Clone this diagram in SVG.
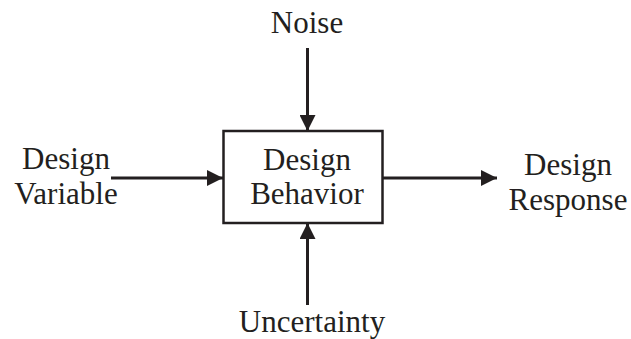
<svg xmlns="http://www.w3.org/2000/svg" width="631" height="339" viewBox="0 0 631 339">
<style>
.c{stroke:#231f20;stroke-width:3;fill:none}
.b{fill:#fff;stroke:#231f20;stroke-width:2.5}
</style>
<defs>
<marker id="ah" markerWidth="16" markerHeight="16" viewBox="0 0 16 16" refX="16" refY="8" orient="auto" markerUnits="userSpaceOnUse">
<path d="M0,0 L16,8 L0,16 Z" fill="#231f20"/>
</marker>
</defs>
<rect width="631" height="339" fill="#fff"/>
<g id="connectors">
<line class="c" x1="307.5" y1="48" x2="307.5" y2="131" marker-end="url(#ah)"/>
<line class="c" x1="307.5" y1="305" x2="307.5" y2="223" marker-end="url(#ah)"/>
<line class="c" x1="111" y1="178" x2="223" y2="178" marker-end="url(#ah)"/>
<line class="c" x1="383" y1="178" x2="497" y2="178" marker-end="url(#ah)"/>
</g>
<g font-family="Liberation Serif" font-size="31" fill="#231f20" text-anchor="middle">
<g id="behavior">
<rect class="b" x="223.5" y="131" width="159" height="92"/>
<text x="307" y="170">Design</text>
<text x="307" y="204">Behavior</text>
</g>
<g id="noise"><text x="307" y="33">Noise</text></g>
<g id="uncertainty"><text x="312" y="332">Uncertainty</text></g>
<g id="variable"><text x="66" y="169">Design</text><text x="66" y="204">Variable</text></g>
<g id="response"><text x="568" y="175">Design</text><text x="568" y="210">Response</text></g>
</g>
</svg>
